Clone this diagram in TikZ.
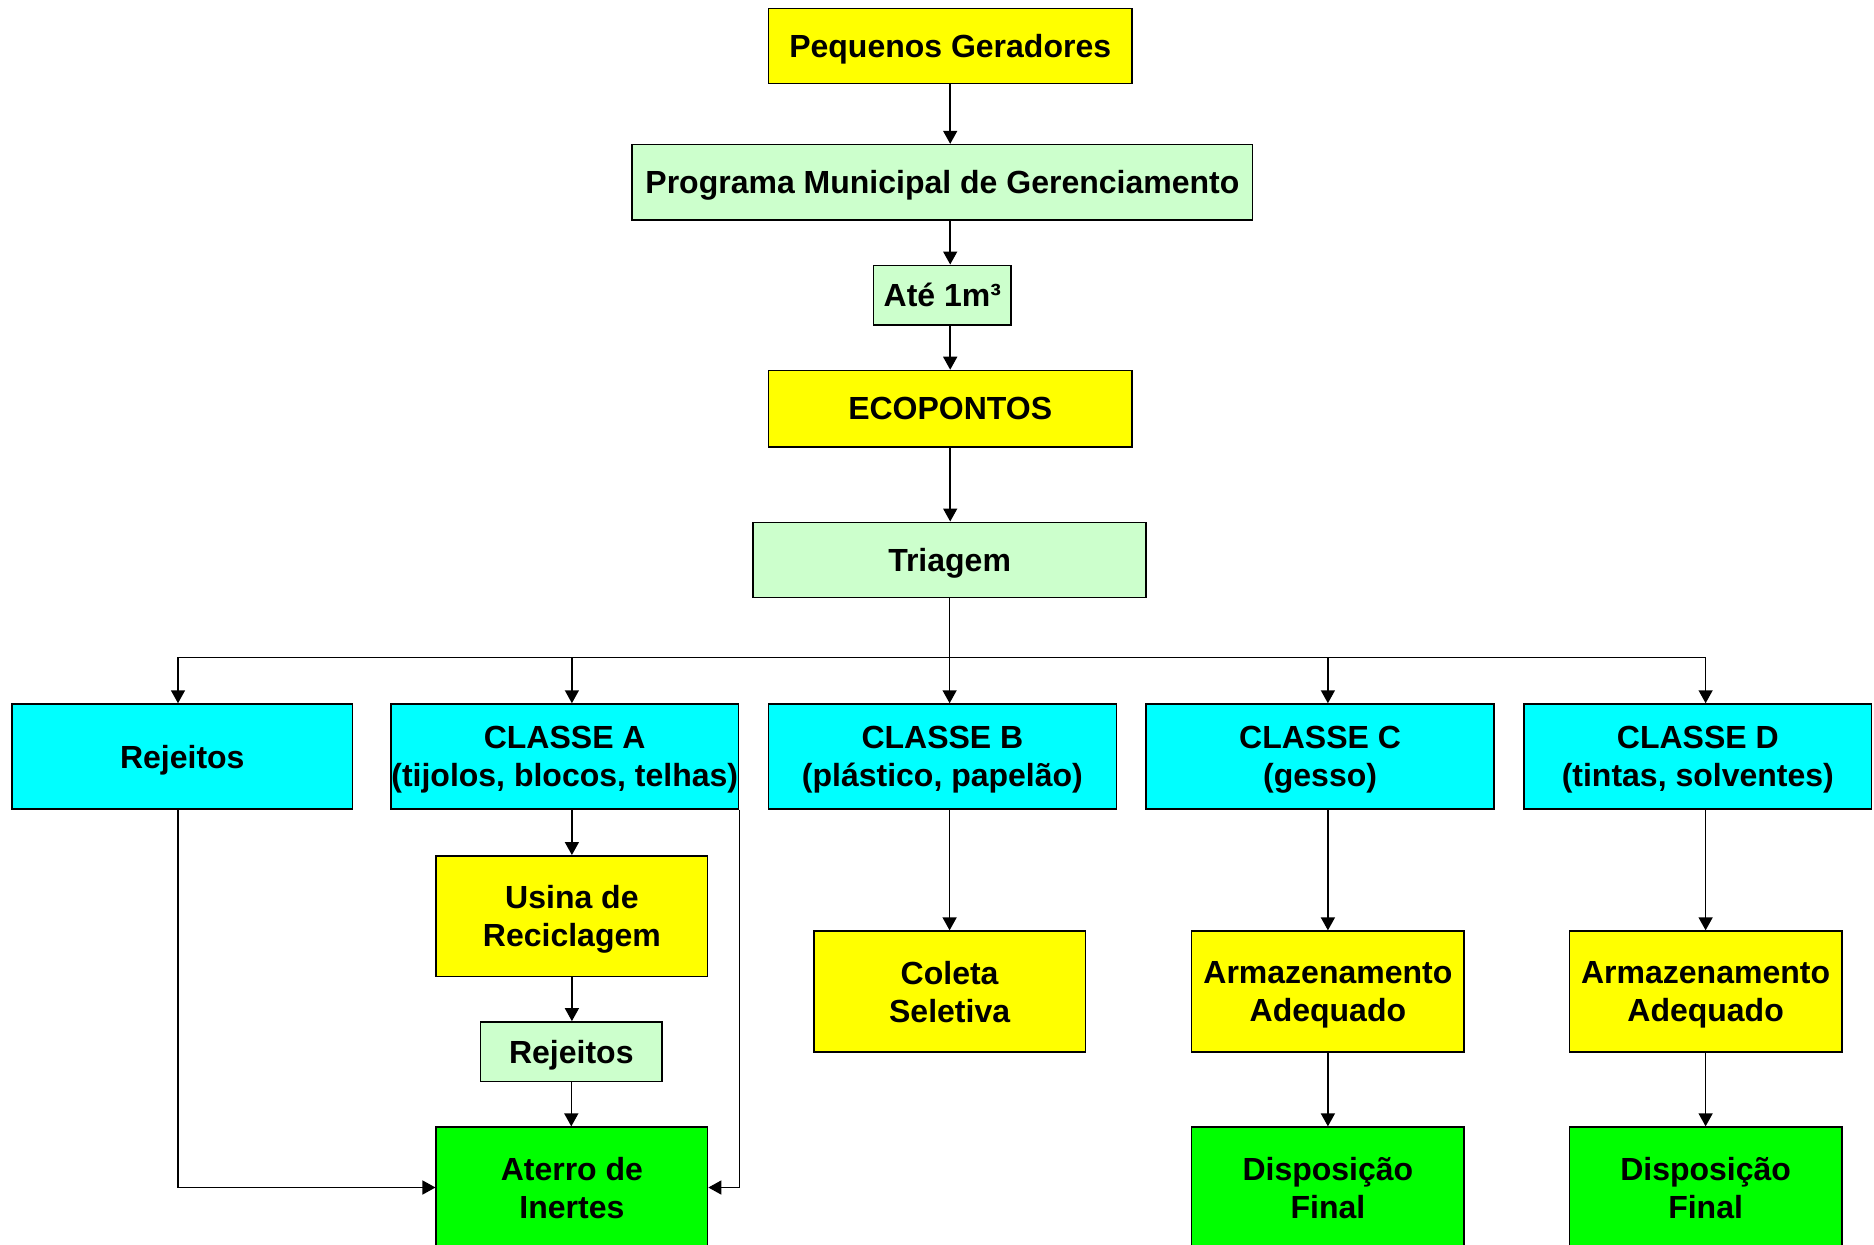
\documentclass[tikz,border=0pt]{standalone}
\usepackage{fontspec}
\setmainfont{Liberation Sans}
\usetikzlibrary{arrows.meta}

\begin{document}
\begin{tikzpicture}[x=0.5pt,y=0.5pt,yscale=-1,
    caixa/.style={draw=black, line width=0.75pt, align=center, inner sep=0pt, text depth=0pt, font=\fontsize{16}{19}\selectfont\bfseries},
    amarelo/.style={caixa, fill={rgb, 255:red, 255; green, 255; blue, 0 }},
    verdeclaro/.style={caixa, fill={rgb, 255:red, 204; green, 255; blue, 204 }},
    ciano/.style={caixa, fill={rgb, 255:red, 0; green, 255; blue, 255 }, minimum width=173.9pt, minimum height=52.6pt},
    verde/.style={caixa, fill={rgb, 255:red, 0; green, 255; blue, 0 }, minimum width=135.7pt, minimum height=60.4pt},
    seta/.style={-{Triangle[length=6.5pt,width=7pt]}, line width=0.75pt}]
        \useasboundingbox (0,0) rectangle (1874,1245);
        % coluna central
        \draw (950.2,46) node [amarelo, minimum width=181.7pt, minimum height=37.7pt] (peq) {Pequenos Geradores};
        \draw (942.4,182.3) node [verdeclaro, minimum width=310.2pt, minimum height=37.7pt] (prog) {Programa Municipal de Gerenciamento};
        \draw (942.4,295.2) node [verdeclaro, minimum width=68.7pt, minimum height=29.9pt] (ate) {Até 1m³};
        \draw (950.2,408.8) node [amarelo, minimum width=181.7pt, minimum height=38.3pt] (eco) {ECOPONTOS};
        \draw (949.6,560) node [verdeclaro, minimum width=196.6pt, minimum height=37.7pt] (tri) {Triagem};
        % classes
        \draw (182.3,756.6) node [ciano, minimum width=170.3pt] (rej) {Rejeitos};
        \draw (564.7,756.6) node [ciano] (ca) {CLASSE A\\(tijolos, blocos, telhas)};
        \draw (942.4,756.6) node [ciano] (cb) {CLASSE B\\(plástico, papelão)};
        \draw (1320.1,756.6) node [ciano] (cc) {CLASSE C\\(gesso)};
        \draw (1697.8,756.6) node [ciano] (cd) {CLASSE D\\(tintas, solventes)};
        % destinos
        \draw (571.9,916.2) node [amarelo, minimum width=135.7pt, minimum height=60.4pt] (usina) {Usina de\\Reciclagem};
        \draw (571.3,1051.8) node [verdeclaro, minimum width=90.8pt, minimum height=29.9pt] (rej2) {Rejeitos};
        \draw (571.9,1187.5) node [verde] (aterro) {Aterro de\\Inertes};
        \draw (949.6,991.5) node [amarelo, minimum width=135.7pt, minimum height=60.4pt] (coleta) {Coleta\\Seletiva};
        \draw (1327.9,991.5) node [amarelo, minimum width=136.3pt, minimum height=60.4pt] (armC) {Armazenamento\\Adequado};
        \draw (1705.6,991.5) node [amarelo, minimum width=136.3pt, minimum height=60.4pt] (armD) {Armazenamento\\Adequado};
        \draw (1327.9,1187.5) node [verde, minimum width=136.3pt] (dispC) {Disposição\\Final};
        \draw (1705.6,1187.5) node [verde, minimum width=136.3pt] (dispD) {Disposição\\Final};
        % setas
        \draw [seta] (peq.south) -- (peq.south |- prog.north);
        \draw [seta] (eco.north |- prog.south) -- (eco.north |- ate.north);
        \draw [seta] (eco.north |- ate.south) -- (eco.north);
        \draw [seta] (eco.south) -- (eco.south |- tri.north);
        \coordinate (barra) at (178,657);
        \draw (barra) -- (armD.north |- barra);
        \draw [seta] (barra) -- (barra |- rej.north);
        \draw [seta] (usina.north |- barra) -- (usina.north |- ca.north);
        \draw [seta] (tri.south) -- (tri.south |- cb.north);
        \draw [seta] (armC.north |- barra) -- (armC.north |- cc.north);
        \draw [seta] (armD.north |- barra) -- (armD.north |- cd.north);
        \draw [seta] (usina.north |- ca.south) -- (usina.north);
        \draw [seta] (usina.south) -- (usina.south |- rej2.north);
        \draw [seta] (rej2.south) -- (rej2.south |- aterro.north);
        \draw [seta] (coleta.north |- cb.south) -- (coleta.north);
        \draw [seta] (armC.north |- cc.south) -- (armC.north);
        \draw [seta] (armD.north |- cd.south) -- (armD.north);
        \draw [seta] (armC.south) -- (dispC.north);
        \draw [seta] (armD.south) -- (dispD.north);
        \draw [seta] (barra |- rej.south) |- (aterro.west);
        \draw [seta] (ca.south east) |- (aterro.east);
\end{tikzpicture}
\end{document}
